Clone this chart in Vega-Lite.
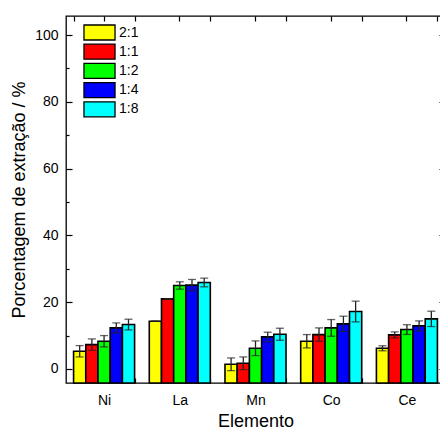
{
  "$schema": "https://vega.github.io/schema/vega-lite/v6.json",
  "autosize": {"type": "none"},
  "padding": {"left": 66, "top": 16, "right": 0, "bottom": 50},
  "width": 379,
  "height": 367,
  "background": "white",
  "title": {"text": "(a)", "fontSize": 18, "font": "Liberation Sans", "fontWeight": "normal", "anchor": "middle", "dx": -24, "baseline": "alphabetic", "offset": 12, "color": "black"},
  "config": {
    "view": {"stroke": "black", "strokeWidth": 1.3},
    "axis": {"labelFont": "Liberation Sans", "titleFont": "Liberation Sans", "labelFontSize": 14, "titleFontSize": 18, "titleFontWeight": "normal", "labelColor": "black", "titleColor": "black", "tickColor": "black", "tickWidth": 1.2, "grid": false, "domain": false},
    "legend": {"labelFont": "Liberation Sans", "labelFontSize": 14, "labelColor": "black"}
  },
  "data": {"values": [
    {"Elemento": "Ni", "Razao": "2:1", "valor": 5.3, "erro": 1.7},
    {"Elemento": "Ni", "Razao": "1:1", "valor": 7.3, "erro": 1.7},
    {"Elemento": "Ni", "Razao": "1:2", "valor": 8.3, "erro": 1.7},
    {"Elemento": "Ni", "Razao": "1:4", "valor": 12.3, "erro": 1.5},
    {"Elemento": "Ni", "Razao": "1:8", "valor": 13.3, "erro": 1.6},
    {"Elemento": "La", "Razao": "2:1", "valor": 14.3, "erro": 0},
    {"Elemento": "La", "Razao": "1:1", "valor": 21.0, "erro": 0},
    {"Elemento": "La", "Razao": "1:2", "valor": 25.0, "erro": 1.1},
    {"Elemento": "La", "Razao": "1:4", "valor": 25.1, "erro": 1.7},
    {"Elemento": "La", "Razao": "1:8", "valor": 25.9, "erro": 1.3},
    {"Elemento": "Mn", "Razao": "2:1", "valor": 1.4, "erro": 1.9},
    {"Elemento": "Mn", "Razao": "1:1", "valor": 1.7, "erro": 1.9},
    {"Elemento": "Mn", "Razao": "1:2", "valor": 6.2, "erro": 2.2},
    {"Elemento": "Mn", "Razao": "1:4", "valor": 9.6, "erro": 1.4},
    {"Elemento": "Mn", "Razao": "1:8", "valor": 10.4, "erro": 1.8},
    {"Elemento": "Co", "Razao": "2:1", "valor": 8.3, "erro": 2.0},
    {"Elemento": "Co", "Razao": "1:1", "valor": 10.3, "erro": 2.0},
    {"Elemento": "Co", "Razao": "1:2", "valor": 12.3, "erro": 2.5},
    {"Elemento": "Co", "Razao": "1:4", "valor": 13.5, "erro": 2.3},
    {"Elemento": "Co", "Razao": "1:8", "valor": 17.2, "erro": 3.1},
    {"Elemento": "Ce", "Razao": "2:1", "valor": 6.2, "erro": 0.75},
    {"Elemento": "Ce", "Razao": "1:1", "valor": 10.2, "erro": 0.9},
    {"Elemento": "Ce", "Razao": "1:2", "valor": 11.8, "erro": 1.45},
    {"Elemento": "Ce", "Razao": "1:4", "valor": 12.9, "erro": 1.5},
    {"Elemento": "Ce", "Razao": "1:8", "valor": 15.0, "erro": 2.3}
  ]},
  "layer": [
    {
      "mark": {"type": "bar", "stroke": "black", "strokeWidth": 1.6},
      "encoding": {
        "x": {"field": "Elemento", "type": "nominal", "sort": ["Ni", "La", "Mn", "Co", "Ce"],
              "scale": {"paddingInner": 0.194, "paddingOuter": 0.1},
              "axis": {"orient": "bottom", "title": "Elemento", "labelAngle": 0, "tickBand": "extent", "tickSize": -5, "labelPadding": 15, "titlePadding": 5}},
        "xOffset": {"field": "Razao", "type": "nominal", "sort": ["2:1", "1:1", "1:2", "1:4", "1:8"], "scale": {"paddingInner": 0, "paddingOuter": 0}},
        "y": {"field": "valor", "type": "quantitative", "scale": {"domain": [-4.2, 105.7], "nice": false, "zero": false},
              "axis": {"orient": "left", "title": "Porcentagem de extração / %", "values": [0, 20, 40, 60, 80, 100], "tickSize": -6, "labelPadding": 14, "titlePadding": 6}},
        "y2": {"datum": -4.2},
        "color": {"field": "Razao", "type": "nominal", "sort": ["2:1", "1:1", "1:2", "1:4", "1:8"],
                  "scale": {"domain": ["2:1", "1:1", "1:2", "1:4", "1:8"], "range": ["#FFFF00", "#FF0000", "#00FF00", "#0000FF", "#00FFFF"]},
                  "legend": {"title": null, "orient": "none", "legendX": 25, "legendY": 8, "padding": 0,
                             "symbolType": "M-2.07,-1L2.07,-1L2.07,1L-2.07,1Z", "symbolSize": 225, "symbolStrokeColor": "black", "symbolStrokeWidth": 1.3, "symbolOpacity": 1,
                             "labelOffset": 11, "rowPadding": -1.8}}
      }
    },
    {
      "mark": {"type": "errorbar", "ticks": {"size": 8, "thickness": 1.3}, "color": "#222222", "thickness": 1.3},
      "encoding": {
        "x": {"field": "Elemento", "type": "nominal", "sort": ["Ni", "La", "Mn", "Co", "Ce"],
              "axis": {"orient": "top", "title": null, "labels": false, "tickBand": "center", "tickSize": -5}},
        "xOffset": {"field": "Razao", "type": "nominal", "sort": ["2:1", "1:1", "1:2", "1:4", "1:8"]},
        "y": {"field": "valor", "type": "quantitative", "scale": {"domain": [-4.2, 105.7], "nice": false, "zero": false},
              "axis": {"orient": "left", "title": null, "labels": false, "values": [10, 30, 50, 70, 90], "tickSize": -3}},
        "yError": {"field": "erro"}
      }
    },
    {
      "mark": {"type": "point", "opacity": 0},
      "encoding": {
        "x": {"field": "Elemento", "type": "nominal", "sort": ["Ni", "La", "Mn", "Co", "Ce"],
              "axis": {"orient": "top", "title": null, "labels": false, "tickBand": "extent", "tickSize": -5}},
        "y": {"field": "valor", "type": "quantitative", "scale": {"domain": [-4.2, 105.7], "nice": false, "zero": false},
              "axis": {"orient": "right", "title": null, "labels": false, "values": [0, 20, 40, 60, 80, 100], "tickSize": -6}}
      }
    }
  ],
  "resolve": {"axis": {"x": "independent", "y": "independent"}}
}
